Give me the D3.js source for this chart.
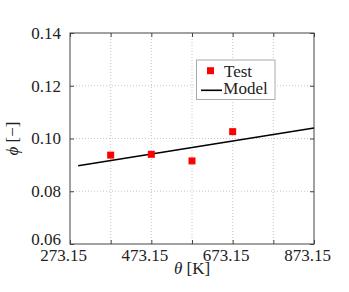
<!DOCTYPE html>
<html lang="en">
<head>
<meta charset="UTF-8">
<title>phi vs theta</title>
<script src="https://d3js.org/d3.v7.min.js"></script>
<style>
    body { margin: 0; background: #fff; }
    .grid line { stroke: #c8c8c8; stroke-dasharray: 1,2; }
    .axis path { display: none; }
    .axis line { stroke: #444; }
</style>
</head>
<body>
<svg width="349" height="292" font-family="Liberation Serif" font-size="17"></svg>
<script>
    // values
    var xTicks = [273.15, 373.15, 473.15, 573.15, 673.15, 773.15, 873.15];
    var xLabelled = [273.15, 473.15, 673.15, 873.15];
    var yTicks = [0.06, 0.08, 0.10, 0.12, 0.14];
    var testTheta = [373.15, 473.15, 573.15, 673.15];
    var testPhi = [0.0937, 0.0940, 0.0915, 0.1026];
    var modelTheta = [293.15, 873.15];
    var modelPhi = [0.0897, 0.1040];

    var svg = d3.select("svg"),
        margin = {top: 33, right: 35, bottom: 48, left: 70},
        width = +svg.attr("width") - margin.left - margin.right,
        height = +svg.attr("height") - margin.top - margin.bottom,
        font = "Liberation Serif";

    var g = svg.append("g")
        .attr("transform", "translate(" + margin.left + "," + margin.top + ")");

    var x = d3.scaleLinear().domain([273.15, 873.15]).range([0, width]);
    var y = d3.scaleLinear().domain([0.06, 0.14]).range([height, 0]);

    // grid
    var grid = g.append("g").attr("class", "grid");
    grid.selectAll(".gx").data(xTicks.slice(1, -1)).enter().append("line")
        .attr("x1", d => x(d)).attr("x2", d => x(d))
        .attr("y1", 0).attr("y2", height);
    grid.selectAll(".gy").data(yTicks.slice(1, -1)).enter().append("line")
        .attr("x1", 0).attr("x2", width)
        .attr("y1", d => y(d)).attr("y2", d => y(d));

    // axes with inward ticks
    var fmtX = function(d) { return xLabelled.indexOf(d) >= 0 ? d.toFixed(2) : ""; };
    g.append("g").attr("class", "axis")
        .attr("transform", "translate(0," + height + ")")
        .call(d3.axisBottom(x).tickValues(xTicks).tickFormat(fmtX)
            .tickSizeInner(-4).tickSizeOuter(0).tickPadding(4.5))
        .attr("font-family", font).attr("font-size", 17)
        .selectAll("text").attr("dx", -7).attr("fill", "#222");
    g.append("g").attr("class", "axis")
        .call(d3.axisTop(x).tickValues(xTicks).tickFormat("")
            .tickSizeInner(-4).tickSizeOuter(0));
    g.append("g").attr("class", "axis")
        .call(d3.axisLeft(y).tickValues(yTicks).tickFormat(d3.format(".2f"))
            .tickSizeInner(-4).tickSizeOuter(0).tickPadding(9))
        .attr("font-family", font).attr("font-size", 17)
        .selectAll("text").attr("fill", "#222")
        .filter(d => d === yTicks[0]).attr("dy", "0.02em");  // lowest label sits a little higher
    g.append("g").attr("class", "axis")
        .attr("transform", "translate(" + width + ",0)")
        .call(d3.axisRight(y).tickValues(yTicks).tickFormat("")
            .tickSizeInner(-4).tickSizeOuter(0));

    g.append("rect")
        .attr("width", width).attr("height", height)
        .attr("fill", "none").attr("stroke", "#444").attr("stroke-width", 1);

    // model line
    var line = d3.line().x(d => x(d[0])).y(d => y(d[1]));
    g.append("path")
        .datum(d3.zip(modelTheta, modelPhi))
        .attr("d", line)
        .attr("fill", "none").attr("stroke", "#000").attr("stroke-width", 1.6);

    // test points
    var s = 7;
    g.selectAll(".pt").data(d3.zip(testTheta, testPhi)).enter().append("rect")
        .attr("x", d => x(d[0]) - s / 2).attr("y", d => y(d[1]) - s / 2)
        .attr("width", s).attr("height", s).attr("fill", "#ff0000");

    // axis titles
    svg.append("text")
        .attr("x", margin.left + width / 2).attr("y", 274)
        .attr("text-anchor", "middle").attr("fill", "#222")
        .html("<tspan font-style='italic'>θ</tspan> [K]");
    svg.append("text")
        .attr("transform", "translate(18," + (margin.top + height / 2) + ") rotate(-90)")
        .attr("text-anchor", "middle").attr("fill", "#222")
        .html("<tspan font-style='italic'>ϕ</tspan> [−]");

    // legend
    var lg = svg.append("g").attr("transform", "translate(196.5,60)");
    lg.append("rect").attr("width", 78.5).attr("height", 39.5)
        .attr("fill", "#fff").attr("stroke", "#aaa").attr("stroke-width", 1);
    lg.append("rect").attr("x", 14 - s / 2).attr("y", 10.7 - s / 2)
        .attr("width", s).attr("height", s).attr("fill", "#ff0000");
    lg.append("text").attr("x", 27.5).attr("y", 17.3).attr("fill", "#222").text("Test");
    lg.append("line").attr("x1", 4.5).attr("x2", 25.5).attr("y1", 30.3).attr("y2", 30.3)
        .attr("stroke", "#000").attr("stroke-width", 1.6);
    lg.append("text").attr("x", 26.8).attr("y", 34).attr("fill", "#222").text("Model");
</script>
</body>
</html>
